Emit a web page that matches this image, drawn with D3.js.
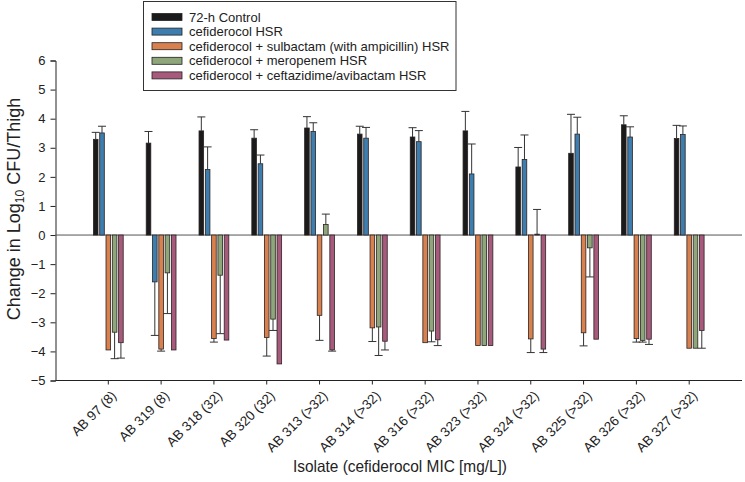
<!DOCTYPE html>
<html><head><meta charset="utf-8">
<script src="https://cdn.jsdelivr.net/npm/d3@7"></script>
<style>body{margin:0;background:#fff}svg{display:block;font-family:"Liberation Sans",Arial,sans-serif}</style>
</head><body><svg id="c" width="745" height="482"></svg>
<script>
const categories = ["AB 97 (8)","AB 319 (8)","AB 318 (32)","AB 320 (32)","AB 313 (>32)","AB 314 (>32)","AB 316 (>32)","AB 323 (>32)","AB 324 (>32)","AB 325 (>32)","AB 326 (>32)","AB 327 (>32)"];
const seriesNames = ["72-h Control","cefiderocol HSR","cefiderocol + sulbactam (with ampicillin) HSR","cefiderocol + meropenem HSR","cefiderocol + ceftazidime/avibactam HSR"];
const seriesColors = ["#1b1b1b","#3d7eaf","#d9804f","#8fa67a","#a85a7c"];
const control      = [3.29, 3.16, 3.58, 3.33, 3.68, 3.47, 3.37, 3.58, 2.34, 2.81, 3.79, 3.32];
const controlErr   = [0.24, 0.40, 0.48, 0.29, 0.39, 0.27, 0.32, 0.67, 0.67, 1.34, 0.31, 0.45];
const cefHSR       = [3.51, -1.61, 2.25, 2.45, 3.56, 3.33, 3.21, 2.10, 2.60, 3.47, 3.37, 3.46];
const cefHSRErr    = [0.23, 1.84, 0.78, 0.30, 0.30, 0.37, 0.38, 1.03, 0.84, 0.58, 0.35, 0.29];
const sulbactam    = [-3.95, -3.92, -3.56, -3.52, -2.76, -3.19, -3.70, -3.80, -3.57, -3.36, -3.56, -3.89];
const sulbactamErr = [0, 0.07, 0.12, 0.64, 0.86, 0.47, 0, 0, 0.47, 0.45, 0.12, 0];
const meropenem    = [-3.34, -1.30, -1.38, -2.89, 0.36, -3.16, -3.30, -3.80, 0.03, -0.44, -3.62, -3.89];
const meropenemErr = [0.91, 1.40, 2.01, 0.39, 0.36, 0.98, 0.37, 0, 0.85, 1.00, 0.06, 0];
const ceftazidime    = [-3.70, -3.95, -3.61, -4.43, -3.95, -3.65, -3.60, -3.80, -3.92, -3.58, -3.58, -3.28];
const ceftazidimeErr = [0.53, 0, 0, 0, 0.04, 0.30, 0.20, 0, 0.12, 0, 0.18, 0.61];
const yTicks = [-5,-4,-3,-2,-1,0,1,2,3,4,5,6];

const values = [control, cefHSR, sulbactam, meropenem, ceftazidime];
const errors = [controlErr, cefHSRErr, sulbactamErr, meropenemErr, ceftazidimeErr];

const svg = d3.select("#c");
const mLeft = 55.5, mRight = 742, mTop = 60.5, mBottom = 380.5;
const x = d3.scaleBand().domain(categories).range([mLeft, mRight]).paddingInner(0).paddingOuter(0.5);
const y = d3.scaleLinear().domain([-5, 6]).range([mBottom, mTop]);
const x1 = d3.scaleBand().domain(d3.range(5)).range([-14.9, 14.9]).paddingInner(0.27).paddingOuter(0);

// y axis
const ya = svg.append("g").attr("transform", `translate(${mLeft},0)`)
  .call(d3.axisLeft(y).tickValues(yTicks).tickSize(5).tickPadding(5).tickFormat(d3.format("d")));
ya.select(".domain").attr("stroke","#222");
ya.selectAll(".tick line").attr("stroke","#222");
ya.selectAll("text").attr("font-size",13).attr("fill","#222").attr("font-family","Liberation Sans, Arial, sans-serif");

// x axis
const xa = svg.append("g").attr("transform", `translate(0,${mBottom})`)
  .call(d3.axisBottom(x).tickSize(4).tickSizeOuter(0));
xa.select(".domain").attr("stroke","#222").attr("d", `M${mLeft},0H${mRight}`);
xa.selectAll(".tick line").attr("stroke","#222");
xa.selectAll("text").attr("font-size",13.5).attr("fill","#222").attr("font-family","Liberation Sans, Arial, sans-serif")
  .attr("text-anchor","end").attr("dy",0).attr("y",0)
  .attr("transform","translate(9,16) rotate(-45)");

// zero line
svg.append("line").attr("x1",mLeft).attr("x2",mRight).attr("y1",y(0)).attr("y2",y(0))
  .attr("stroke","#555").attr("stroke-width",1);

// bars
const g = svg.append("g");
values.forEach((vals, s) => {
  vals.forEach((v, i) => {
    const cx = x(categories[i]) + x.bandwidth()/2;
    const bx = cx + x1(s);
    const w = x1.bandwidth();
    g.append("rect").attr("x", bx).attr("width", w)
      .attr("y", Math.min(y(v), y(0))).attr("height", Math.abs(y(v) - y(0)))
      .attr("fill", seriesColors[s]).attr("stroke","#2a2222").attr("stroke-width",0.8);
    const e = errors[s][i];
    if (e > 0) {
      const end = v >= 0 ? v + e : v - e;
      const mx = bx + w/2;
      g.append("line").attr("x1",mx).attr("x2",mx).attr("y1",y(v)).attr("y2",y(end))
        .attr("stroke","#333").attr("stroke-width",1);
      g.append("line").attr("x1",mx-4).attr("x2",mx+4).attr("y1",y(end)).attr("y2",y(end))
        .attr("stroke","#333").attr("stroke-width",1);
    }
  });
});

// legend
const lg = svg.append("g");
lg.append("rect").attr("x",143.5).attr("y",1.5).attr("width",312.5).attr("height",89)
  .attr("fill","#fff").attr("stroke","#333").attr("stroke-width",1);
seriesNames.forEach((n, s) => {
  const cy = 17 + s*14.6;
  lg.append("rect").attr("x",152).attr("y",cy-3.5).attr("width",30).attr("height",7)
    .attr("fill",seriesColors[s]).attr("stroke","#222").attr("stroke-width",0.8);
  lg.append("text").attr("x",189).attr("y",cy+4.5).attr("font-size",13).attr("fill","#222").text(n);
});

// axis titles
const yt = svg.append("text").attr("transform","translate(20,209) rotate(-90)")
  .attr("text-anchor","middle").attr("font-size",18).attr("fill","#222");
yt.append("tspan").text("Change in Log");
yt.append("tspan").attr("font-size",12).attr("dy",4).text("10");
yt.append("tspan").attr("dy",-4).text(" CFU/Thigh");

svg.append("text").attr("x",400).attr("y",472).attr("text-anchor","middle")
  .attr("font-size",16.5).attr("fill","#222").attr("textLength",214).attr("lengthAdjust","spacingAndGlyphs")
  .text("Isolate (cefiderocol MIC [mg/L])");
</script></body></html>
